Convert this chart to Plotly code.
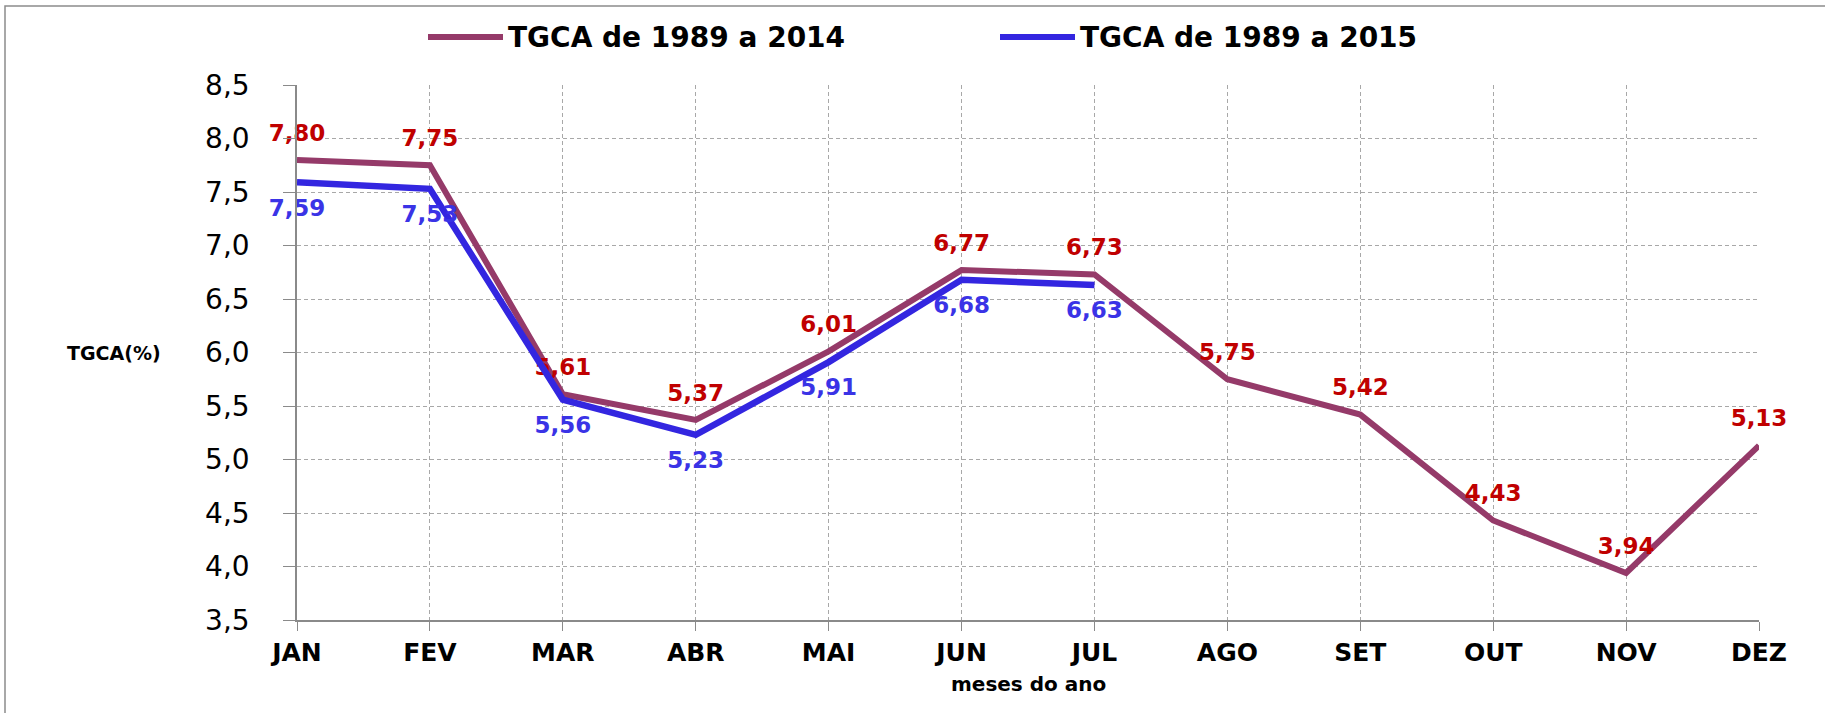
import plotly.graph_objects as go

# ---- data ----
meses = ["JAN", "FEV", "MAR", "ABR", "MAI", "JUN", "JUL", "AGO", "SET", "OUT", "NOV", "DEZ"]
tgca_2014 = [7.80, 7.75, 5.61, 5.37, 6.01, 6.77, 6.73, 5.75, 5.42, 4.43, 3.94, 5.13]
meses_2015 = ["JAN", "FEV", "MAR", "ABR", "MAI", "JUN", "JUL"]
tgca_2015 = [7.59, 7.53, 5.56, 5.23, 5.91, 6.68, 6.63]
nome_2014 = "TGCA de 1989 a 2014"
nome_2015 = "TGCA de 1989 a 2015"
y_ticks = [3.5, 4.0, 4.5, 5.0, 5.5, 6.0, 6.5, 7.0, 7.5, 8.0, 8.5]
titulo_y = "TGCA(%)"
titulo_x = "meses do ano"

# ---- styles ----
FONT = "DejaVu Sans"
COR_2014 = "#953A69"
COR_2015 = "#3326E0"
TXT_2014 = "#C00000"
TXT_2015 = "#3A33E6"
GRID = "#A8A8A8"
AXIS = "#8A8A8A"

W, H = 1825, 713
ML, MR, MT, MB = 297, 66, 85, 93
PW = W - ML - MR
PH = H - MT - MB


def px(xpix):
    return (xpix - ML) / PW


def py(ypix):
    return (H - MB - ypix) / PH


fig = go.Figure()

fig.add_trace(go.Scatter(
    x=meses, y=tgca_2014, name=nome_2014,
    mode="lines+markers+text",
    line=dict(color=COR_2014, width=6),
    marker=dict(size=20, opacity=0),
    texttemplate="%{y:.2f}", textposition="top center",
    textfont=dict(family=FONT, size=23, color=TXT_2014, weight="bold"),
    cliponaxis=False,
    showlegend=False, hoverinfo="skip",
))
fig.add_trace(go.Scatter(
    x=meses_2015, y=tgca_2015, name=nome_2015,
    mode="lines+markers+text",
    line=dict(color=COR_2015, width=6.5),
    marker=dict(size=24, opacity=0),
    texttemplate="%{y:.2f}", textposition="bottom center",
    textfont=dict(family=FONT, size=23, color=TXT_2015, weight="bold"),
    cliponaxis=False,
    showlegend=False, hoverinfo="skip",
))

shapes = []
annotations = []

# custom legend
leg_font = dict(family=FONT, size=28, color="black", weight="bold")
legend_items = [(nome_2014, COR_2014, 428), (nome_2015, COR_2015, 1000)]
for nome, cor, x0 in legend_items:
    shapes.append(dict(type="line", xref="paper", yref="paper",
                       x0=px(x0), x1=px(x0 + 75), y0=py(37), y1=py(37),
                       line=dict(color=cor, width=6)))
    annotations.append(dict(text=nome, xref="paper", yref="paper",
                            x=px(x0 + 78), y=py(37), xanchor="left", yanchor="middle",
                            showarrow=False, font=leg_font))

# chart frame
shapes.append(dict(type="rect", xref="paper", yref="paper",
                   x0=px(5), x1=px(1900), y0=py(800), y1=py(6),
                   line=dict(color="#8C8C8C", width=1.5), layer="below"))

# axis titles
annotations.append(dict(text=titulo_y, xref="paper", yref="y",
                        x=px(114), y=6.0, xanchor="center", yanchor="middle",
                        showarrow=False,
                        font=dict(family=FONT, size=19, color="black", weight="bold")))
annotations.append(dict(text=titulo_x, xref="paper", yref="paper",
                        x=0.5, y=py(684), xanchor="center", yanchor="middle",
                        showarrow=False,
                        font=dict(family=FONT, size=20, color="black", weight="bold")))

fig.update_layout(
    width=W, height=H,
    margin=dict(l=ML, r=MR, t=MT, b=MB),
    paper_bgcolor="white", plot_bgcolor="white",
    separators=",.",
    shapes=shapes, annotations=annotations,
    xaxis=dict(
        type="category", categoryorder="array", categoryarray=meses,
        range=[0, len(meses) - 1],
        showgrid=True, gridcolor=GRID, griddash="4px,3px", gridwidth=1,
        showline=True, linecolor=AXIS, linewidth=1.5,
        ticks="outside", ticklen=9, tickcolor=AXIS,
        tickfont=dict(family=FONT, size=25, color="black", weight="bold"),
        ticklabelstandoff=0,
        zeroline=False,
    ),
    yaxis=dict(
        range=[y_ticks[0], y_ticks[-1]],
        tickvals=y_ticks, tickformat=".1f",
        showgrid=True, gridcolor=GRID, griddash="4px,3px", gridwidth=1,
        showline=True, linecolor=AXIS, linewidth=1.5,
        ticks="outside", ticklen=12, tickcolor=AXIS,
        tickfont=dict(family=FONT, size=28, color="black"),
        ticklabelstandoff=28,
        zeroline=False,
    ),
)

fig.write_html("out.html", config={"displayModeBar": False},
               post_script="document.body.style.margin='0px';")
